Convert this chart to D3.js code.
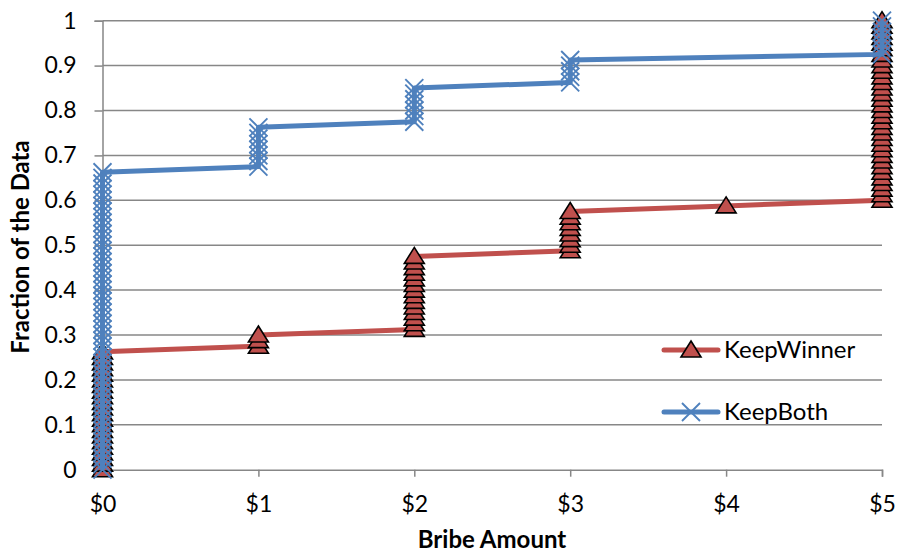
<!DOCTYPE html>
<html>
<head>
<meta charset="utf-8">
<script src="https://cdn.jsdelivr.net/npm/d3@7"></script>
<style>
  html, body { margin: 0; padding: 0; background: #ffffff; }
  svg { display: block; }
</style>
</head>
<body>
<svg id="chart" width="898" height="554"></svg>
<script>
// ---------------- data ----------------
const xTickValues = [0, 1, 2, 3, 4, 5];
const xTickLabels = ["$0", "$1", "$2", "$3", "$4", "$5"];
const yTickValues = [0, 0.1, 0.2, 0.3, 0.4, 0.5, 0.6, 0.7, 0.8, 0.9, 1];
const yTickLabels = ["0", "0.1", "0.2", "0.3", "0.4", "0.5", "0.6", "0.7", "0.8", "0.9", "1"];
const seriesNames = ["KeepWinner", "KeepBoth"];

// KeepWinner: bribe amount of each sorted observation
const keepWinnerX = [
  0,0,0,0,0,0,0,0,0,0,0,0,0,0,0,0,0,0,0,0,0,0,
  1,1,1,
  2,2,2,2,2,2,2,2,2,2,2,2,2,2,
  3,3,3,3,3,3,3,3,
  4,
  5,5,5,5,5,5,5,5,5,5,5,5,5,5,5,5,5,5,5,5,5,5,5,5,5,5,5,5,5,5,5,5,5
];
const keepWinnerY = [
  0, 0.0125, 0.025, 0.0375, 0.05, 0.0625, 0.075, 0.0875, 0.1, 0.1125, 0.125,
  0.1375, 0.15, 0.1625, 0.175, 0.1875, 0.2, 0.2125, 0.225, 0.2375, 0.25, 0.2625,
  0.275, 0.2875, 0.3,
  0.3125, 0.325, 0.3375, 0.35, 0.3625, 0.375, 0.3875, 0.4, 0.4125, 0.425, 0.4375, 0.45, 0.4625, 0.475,
  0.4875, 0.5, 0.5125, 0.525, 0.5375, 0.55, 0.5625, 0.575,
  0.5875,
  0.6, 0.6125, 0.625, 0.6375, 0.65, 0.6625, 0.675, 0.6875, 0.7, 0.7125, 0.725,
  0.7375, 0.75, 0.7625, 0.775, 0.7875, 0.8, 0.8125, 0.825, 0.8375, 0.85, 0.8625,
  0.875, 0.8875, 0.9, 0.9125, 0.925, 0.9375, 0.95, 0.9625, 0.975, 0.9875, 1
];

// KeepBoth
const keepBothX = [
  0,0,0,0,0,0,0,0,0,0,0,0,0,0,0,0,0,0,0,0,0,0,0,0,0,0,0,0,0,0,0,0,0,0,0,0,0,0,0,0,0,0,0,0,0,0,0,0,0,0,0,0,0,0,
  1,1,1,1,1,1,1,1,
  2,2,2,2,2,2,2,
  3,3,3,3,3,
  5,5,5,5,5,5,5
];
const keepBothY = [
  0, 0.0125, 0.025, 0.0375, 0.05, 0.0625, 0.075, 0.0875, 0.1, 0.1125, 0.125,
  0.1375, 0.15, 0.1625, 0.175, 0.1875, 0.2, 0.2125, 0.225, 0.2375, 0.25, 0.2625,
  0.275, 0.2875, 0.3, 0.3125, 0.325, 0.3375, 0.35, 0.3625, 0.375, 0.3875, 0.4,
  0.4125, 0.425, 0.4375, 0.45, 0.4625, 0.475, 0.4875, 0.5, 0.5125, 0.525, 0.5375,
  0.55, 0.5625, 0.575, 0.5875, 0.6, 0.6125, 0.625, 0.6375, 0.65, 0.6625,
  0.675, 0.6875, 0.7, 0.7125, 0.725, 0.7375, 0.75, 0.7625,
  0.775, 0.7875, 0.8, 0.8125, 0.825, 0.8375, 0.85,
  0.8625, 0.875, 0.8875, 0.9, 0.9125,
  0.925, 0.9375, 0.95, 0.9625, 0.975, 0.9875, 1
];

// ---------------- chart ----------------
const RED = "#C0504D", BLUE = "#4F81BD", GRID = "#878787";
const FONT = "Lato, 'Open Sans', sans-serif";

const svg = d3.select("#chart");
const x = d3.scaleLinear().domain([0, 5]).range([102.5, 882]);
const y = d3.scaleLinear().domain([0, 1]).range([469.7, 20.7]);

// gridlines
svg.append("g").selectAll("line")
  .data(yTickValues.filter(d => d > 0))
  .join("line")
  .attr("x1", x(0)).attr("x2", x(5))
  .attr("y1", d => y(d)).attr("y2", d => y(d))
  .attr("stroke", GRID).attr("stroke-width", 1.5);

// y axis
const yAxis = d3.axisLeft(y).tickValues(yTickValues).tickSize(8).tickPadding(18)
  .tickFormat((d, i) => yTickLabels[i]);
const gy = svg.append("g").attr("transform", `translate(${x(0)},0)`).call(yAxis);
gy.select(".domain").attr("stroke", GRID).attr("stroke-width", 1.5);
gy.selectAll(".tick line").attr("stroke", GRID).attr("stroke-width", 1.5);
gy.selectAll(".tick text").attr("font-family", FONT).attr("font-size", 23).attr("fill", "#000");

// x axis
const xAxis = d3.axisBottom(x).tickValues(xTickValues).tickSize(7).tickPadding(19)
  .tickFormat((d, i) => xTickLabels[i]);
const gx = svg.append("g").attr("transform", `translate(0,${y(0)})`).call(xAxis);
gx.select(".domain").attr("stroke", GRID).attr("stroke-width", 1.5);
gx.selectAll(".tick line").attr("stroke", GRID).attr("stroke-width", 1.5);
gx.selectAll(".tick text").attr("font-family", FONT).attr("font-size", 23).attr("fill", "#000");

// axis titles
svg.append("text")
  .attr("x", 492).attr("y", 548)
  .attr("text-anchor", "middle")
  .attr("font-family", FONT).attr("font-weight", "bold").attr("font-size", 24)
  .text("Bribe Amount");
svg.append("text")
  .attr("transform", "translate(29,247) rotate(-90)")
  .attr("text-anchor", "middle")
  .attr("font-family", FONT).attr("font-weight", "bold").attr("font-size", 24)
  .text("Fraction of the Data");

const line = d3.line().x(d => x(d[0])).y(d => y(d[1]));
const triPath = "M0,-9 L10,7 L-10,7 Z";
const xPath = "M-9,-9 L9,9 M-9,9 L9,-9";

function drawSeries(xs, ys, color, marker) {
  const pts = xs.map((v, i) => [v, ys[i]]);
  const g = svg.append("g");
  g.append("path").datum(pts).attr("d", line)
    .attr("fill", "none").attr("stroke", color).attr("stroke-width", 5)
    .attr("stroke-linejoin", "round");
  const m = g.append("g").selectAll("path").data(pts).join("path")
    .attr("transform", d => `translate(${x(d[0])},${y(d[1])})`);
  if (marker === "tri") {
    m.attr("d", triPath).attr("fill", color).attr("stroke", "#000").attr("stroke-width", 1.6)
      .attr("stroke-linejoin", "miter");
  } else {
    m.attr("d", xPath).attr("fill", "none").attr("stroke", color).attr("stroke-width", 1.9);
  }
}
drawSeries(keepWinnerX, keepWinnerY, RED, "tri");
drawSeries(keepBothX, keepBothY, BLUE, "x");

// legend
const legend = [
  { name: seriesNames[0], color: RED, marker: "tri", y: 350 },
  { name: seriesNames[1], color: BLUE, marker: "x", y: 412 }
];
legend.forEach(l => {
  const g = svg.append("g");
  g.append("line").attr("x1", 664).attr("x2", 718).attr("y1", l.y).attr("y2", l.y)
    .attr("stroke", l.color).attr("stroke-width", 5).attr("stroke-linecap", "round");
  const mk = g.append("path").attr("transform", `translate(691,${l.y})`);
  if (l.marker === "tri") {
    mk.attr("d", triPath).attr("fill", l.color).attr("stroke", "#000").attr("stroke-width", 1.6);
  } else {
    mk.attr("d", xPath).attr("fill", "none").attr("stroke", l.color).attr("stroke-width", 1.9);
  }
  g.append("text").attr("x", 724).attr("y", l.y + 8)
    .attr("font-family", FONT).attr("font-size", 24).attr("fill", "#000")
    .text(l.name);
});
</script>
</body>
</html>
